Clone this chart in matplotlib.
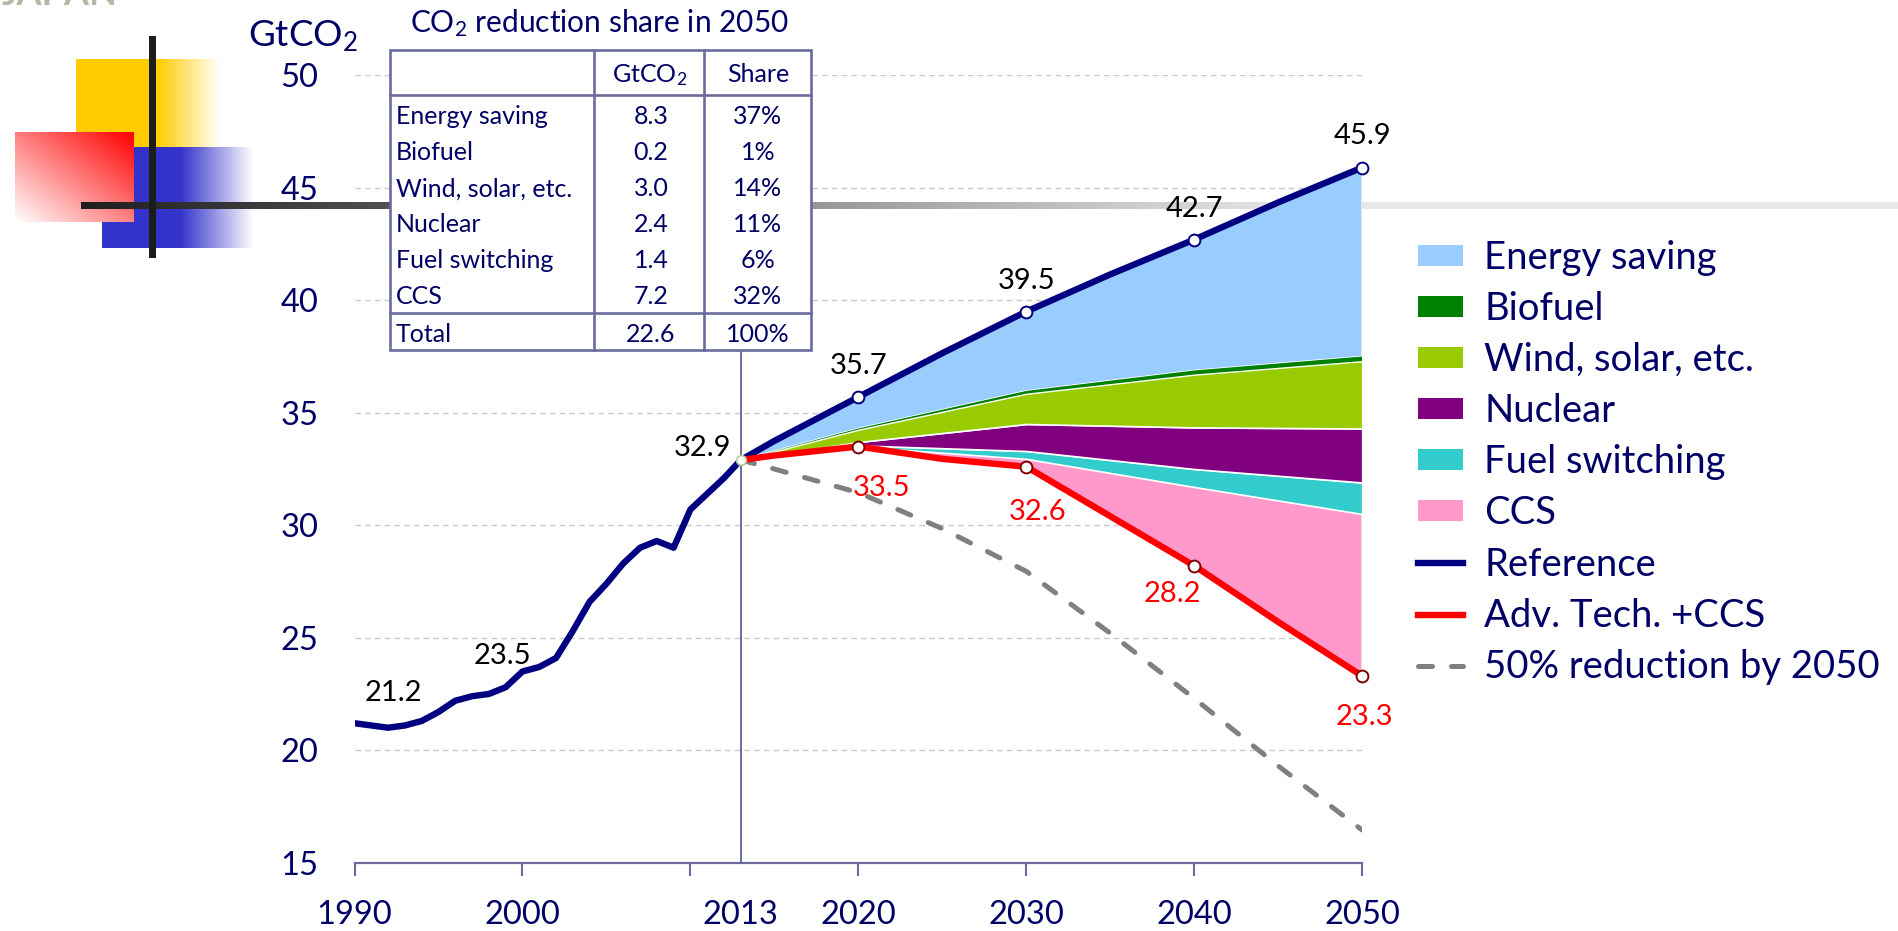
# Global CO2 emissions: reference vs. advanced technologies + CCS

import numpy as np
import matplotlib.pyplot as plt
from matplotlib.patches import Patch, Rectangle
from matplotlib.lines import Line2D
from matplotlib.transforms import Affine2D

plt.rcParams['font.family'] = ['Lato', 'DejaVu Sans']
plt.rcParams['mathtext.fontset'] = 'custom'
plt.rcParams['mathtext.rm'] = 'Lato'
plt.rcParams['mathtext.it'] = 'Lato:italic'
plt.rcParams['mathtext.bf'] = 'Lato:bold'

# Historical emissions (GtCO2)
hist_years = list(range(1990, 2014))
hist_co2 = [21.2, 21.1, 21.0, 21.1, 21.3, 21.7, 22.2, 22.4, 22.5, 22.8,
            23.5, 23.7, 24.1, 25.3, 26.6, 27.4, 28.3, 29.0, 29.3, 29.0,
            30.7, 31.4, 32.1, 32.9]

# Scenarios
proj_years = [2013, 2015, 2020, 2025, 2030, 2035, 2040, 2045, 2050]
reference = [32.9, 33.75, 35.7, 37.65, 39.5, 41.15, 42.7, 44.35, 45.9]
adv_tech = [32.9, 33.1, 33.5, 32.95, 32.6, 30.4, 28.2, 25.7, 23.3]
half_2050 = [32.9, 32.5, 31.45, 29.85, 27.95, 25.2, 22.3, 19.3, 16.45]

# Reduction by measure, stacked on top of Adv. Tech. +CCS
band_years = [2013, 2020, 2030, 2040, 2050]
ccs = [0.0, 0.0, 0.35, 3.5, 7.2]
fuel_sw = [0.0, 0.05, 0.35, 0.8, 1.4]
nuclear = [0.0, 0.15, 1.2, 1.85, 2.4]
wind = [0.0, 0.55, 1.35, 2.35, 3.0]
biofuel = [0.0, 0.05, 0.12, 0.18, 0.2]

marker_years = [2020, 2030, 2040, 2050]

# Table: CO2 reduction share in 2050
table_items = ['Energy saving', 'Biofuel', 'Wind, solar, etc.', 'Nuclear',
               'Fuel switching', 'CCS']
table_gt = ['8.3', '0.2', '3.0', '2.4', '1.4', '7.2']
table_share = ['37%', '1%', '14%', '11%', '6%', '32%']
table_total = ['Total', '22.6', '100%']

navy = '#000080'
tcol = '#000066'
frame = '#6b6b9e'
c_es, c_bio, c_wind = '#99ccff', '#008000', '#99cc00'
c_nuc, c_fs, c_ccs = '#800080', '#33cccc', '#ff99cc'

W, H = 1899, 931
fig = plt.figure(figsize=(W / 100, H / 100), dpi=100)
px = Affine2D().scale(1 / W, -1 / H).translate(0, 1) + fig.transFigure

# slide template decoration (squares, cross, grey bar)
bg = np.ones((H, W, 3))


def paint(x0, x1, y0, y1, rgb, alpha):
    a = np.broadcast_to(alpha, (y1 - y0, x1 - x0))[..., None]
    bg[y0:y1, x0:x1] = bg[y0:y1, x0:x1] * (1 - a) + np.array(rgb) * a


xx = np.arange(76, 220)
paint(76, 220, 59, 148, (1, 0.8, 0), np.clip((220 - xx) / 63, 0, 1))
xx = np.arange(102, 253)
paint(102, 253, 147, 248, (0.2, 0.2, 0.8), np.clip((253 - xx) / 73, 0, 1))
gx, gy = np.meshgrid(np.linspace(0, 1, 119), np.linspace(1, 0, 90))
paint(15, 134, 132, 222, (1, 1, 1), 1.0)
paint(15, 134, 132, 222, (1, 0, 0), (gx + gy) / 2)
xx = np.arange(81, W)
bg[202:209, 81:W] = ((30 + 202 * np.clip((xx - 81) / 1219, 0, 1)) / 255)[None, :, None]
bg[36:258, 149:156] = 0.11
fig.figimage(bg, 0, 0, origin='upper', zorder=-1)
fig.text(2, 5, 'JAPAN', transform=px, fontsize=26, weight='bold',
         color='#b4b8a4', va='baseline')

ax = fig.add_axes([0.18668, 0.07336, 0.53065, 0.84576])
ax.set_facecolor('none')
ax.set_xlim(1990, 2050)
ax.set_ylim(15, 50)

# stacked reduction bands
adv_at = np.array([adv_tech[proj_years.index(y)] for y in band_years])
ccs_top = adv_at + np.array(ccs)
fs_top = ccs_top + np.array(fuel_sw)
nuc_top = fs_top + np.array(nuclear)
wind_top = nuc_top + np.array(wind)
bio_top = wind_top + np.array(biofuel)

ax.fill(np.r_[band_years, proj_years[::-1]], np.r_[ccs_top, adv_tech[::-1]],
        facecolor=c_ccs, edgecolor='white', lw=1.2, zorder=2)
ax.fill_between(band_years, ccs_top, fs_top, facecolor=c_fs, edgecolor='white', lw=1.2, zorder=2)
ax.fill_between(band_years, fs_top, nuc_top, facecolor=c_nuc, edgecolor='white', lw=1.2, zorder=2)
ax.fill_between(band_years, nuc_top, wind_top, facecolor=c_wind, edgecolor='white', lw=1.2, zorder=2)
ax.fill(np.r_[proj_years, band_years[::-1]], np.r_[reference, bio_top[::-1]],
        facecolor=c_es, edgecolor='white', lw=1.2, zorder=2)
ax.fill_between(band_years, wind_top, bio_top, facecolor=c_bio, edgecolor='none', zorder=2.1)

# lines
ax.axvline(2013, color=frame, lw=1.4, zorder=1.5)
ax.plot(proj_years, half_2050, color='#808080', lw=3.6, linestyle=(0, (2.8, 3.8)),
        dash_capstyle='round', zorder=3)
ax.plot(hist_years, hist_co2, color=navy, lw=4.6, solid_joinstyle='round', zorder=3.2)
ax.plot(proj_years, reference, color=navy, lw=4.6, solid_joinstyle='round',
        solid_capstyle='round', zorder=3.2, clip_on=False)
ax.plot(proj_years, adv_tech, color='#ff0000', lw=4.6, solid_joinstyle='round',
        solid_capstyle='round', zorder=3.3, clip_on=False)

ref_m = [reference[proj_years.index(y)] for y in marker_years]
adv_m = [adv_tech[proj_years.index(y)] for y in marker_years]
ax.plot(marker_years, ref_m, 'o', ms=8.5, mfc='white', mec=navy, mew=1.4, zorder=4, clip_on=False)
ax.plot(marker_years, adv_m, 'o', ms=8.5, mfc='white', mec='#800000', mew=1.4, zorder=4, clip_on=False)
ax.plot(2013, hist_co2[-1], 'o', ms=7, mfc='white', mec='#b8c8a0', mew=1.2, zorder=4)

# value labels (offsets in data units from the point)
lab_kw = dict(fontsize=21, ha='center', va='baseline', zorder=6)
for yr, dx, dy in [(1990, 2.3, 0.98), (2000, -1.2, 0.34), (2013, -2.3, 0.2)]:
    v = hist_co2[hist_years.index(yr)]
    ax.text(yr + dx, v + dy, f'{v:.1f}', color='black', **lab_kw)
for yr, v, dy in zip(marker_years, ref_m, [1.01, 1.0, 1.02, 1.06]):
    ax.text(yr, v + dy, f'{v:.1f}', color='black', **lab_kw)
for yr, v, dx, dy in zip(marker_years, adv_m, [1.4, 0.65, -1.3, 0.1], [-2.21, -2.37, -1.63, -2.18]):
    ax.text(yr + dx, v + dy, f'{v:.1f}', color='#ff0000', **lab_kw)

# axes styling
for s in ['left', 'top', 'right']:
    ax.spines[s].set_visible(False)
ax.spines['bottom'].set_color(frame)
ax.spines['bottom'].set_linewidth(1.6)
ax.set_yticks(range(15, 51, 5))
ax.yaxis.grid(True, color='#c8c8c8', linestyle=(0, (4, 3)), lw=1.0)
ax.set_axisbelow(True)
ax.tick_params(axis='y', length=0, pad=26, labelsize=23.5, labelcolor=tcol)
ax.set_xticks([1990, 2000, 2010, 2020, 2030, 2040, 2050])
ax.set_xticklabels(['1990', '2000', '', '2020', '2030', '2040', '2050'])
ax.set_xticks([2013], minor=True)
ax.set_xticklabels(['2013'], minor=True)
ax.tick_params(axis='x', which='major', direction='out', length=9, width=1.5,
               color=frame, pad=18, labelsize=23.5, labelcolor=tcol)
ax.tick_params(axis='x', which='minor', length=0, pad=27, labelsize=23.5, labelcolor=tcol)

fig.text(248, 46.7, 'GtCO$_\\mathregular{2}$', transform=px, fontsize=26.5,
         color=tcol, va='baseline')

# legend
handles = [Patch(facecolor=c, edgecolor='none') for c in
           [c_es, c_bio, c_wind, c_nuc, c_fs, c_ccs]]
handles += [Line2D([], [], color=navy, lw=4.6),
            Line2D([], [], color='#ff0000', lw=4.6),
            Line2D([], [], color='#808080', lw=3.6, linestyle=(0, (2.8, 3.8)),
                   dash_capstyle='round')]
labels = ['Energy saving', 'Biofuel', 'Wind, solar, etc.', 'Nuclear',
          'Fuel switching', 'CCS', 'Reference', 'Adv. Tech. +CCS',
          '50% reduction by 2050']
ax.legend(handles, labels, loc='upper left', bbox_to_anchor=(1418 / W, 1 - 240 / H),
          bbox_transform=fig.transFigure, frameon=False, fontsize=27.5,
          handlelength=1.18, handleheight=0.47, handletextpad=0.55,
          labelspacing=0.395, borderpad=0, borderaxespad=0, labelcolor=tcol)

# reduction share table
fig.add_artist(Rectangle((390, 50), 421, 300, transform=px, facecolor='white',
                         edgecolor=frame, lw=1.9, zorder=5))
for xs, ys in [([390, 811], [95, 95]), ([390, 811], [313, 313]),
               ([594, 594], [50, 350]), ([704, 704], [50, 350])]:
    fig.add_artist(Line2D(xs, ys, transform=px, color=frame, lw=1.9, zorder=5.1))
tkw = dict(transform=px, fontsize=18, color=tcol, va='baseline', zorder=6)
fig.text(410, 31.7, 'CO$_\\mathregular{2}$ reduction share in 2050', transform=px,
         fontsize=21.5, color=tcol, va='baseline')
fig.text(650, 82.3, 'GtCO$_\\mathregular{2}$', ha='center', **tkw)
fig.text(758, 82.3, 'Share', ha='center', **tkw)
for i, (name, gt, sh) in enumerate(zip(table_items, table_gt, table_share)):
    yb = 124 + 36.1 * i
    fig.text(396, yb, name, ha='left', **tkw)
    fig.text(651, yb, gt, ha='center', **tkw)
    fig.text(758, yb, sh, ha='center', **tkw)
fig.text(396, 342, table_total[0], ha='left', **tkw)
fig.text(651, 342, table_total[1], ha='center', **tkw)
fig.text(758, 342, table_total[2], ha='center', **tkw)

fig.savefig('out.png', dpi=100)
